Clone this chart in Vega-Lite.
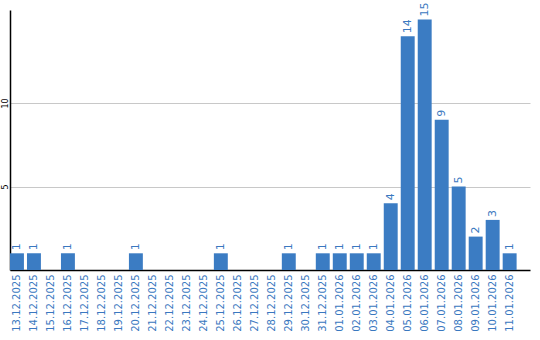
{
  "$schema": "https://vega.github.io/schema/vega-lite/v6.json",
  "width": 520,
  "height": 260,
  "autosize": "none",
  "padding": {"left": 10, "top": 10, "right": 10, "bottom": 70},
  "background": "white",
  "config": {"view": {"stroke": null}},
  "data": {"values": [
    {"d": "13.12.2025", "v": 1},
    {"d": "14.12.2025", "v": 1},
    {"d": "15.12.2025", "v": 0},
    {"d": "16.12.2025", "v": 1},
    {"d": "17.12.2025", "v": 0},
    {"d": "18.12.2025", "v": 0},
    {"d": "19.12.2025", "v": 0},
    {"d": "20.12.2025", "v": 1},
    {"d": "21.12.2025", "v": 0},
    {"d": "22.12.2025", "v": 0},
    {"d": "23.12.2025", "v": 0},
    {"d": "24.12.2025", "v": 0},
    {"d": "25.12.2025", "v": 1},
    {"d": "26.12.2025", "v": 0},
    {"d": "27.12.2025", "v": 0},
    {"d": "28.12.2025", "v": 0},
    {"d": "29.12.2025", "v": 1},
    {"d": "30.12.2025", "v": 0},
    {"d": "31.12.2025", "v": 1},
    {"d": "01.01.2026", "v": 1},
    {"d": "02.01.2026", "v": 1},
    {"d": "03.01.2026", "v": 1},
    {"d": "04.01.2026", "v": 4},
    {"d": "05.01.2026", "v": 14},
    {"d": "06.01.2026", "v": 15},
    {"d": "07.01.2026", "v": 9},
    {"d": "08.01.2026", "v": 5},
    {"d": "09.01.2026", "v": 2},
    {"d": "10.01.2026", "v": 3},
    {"d": "11.01.2026", "v": 1}
  ]},
  "encoding": {
    "x": {
      "field": "d", "type": "ordinal", "sort": null,
      "scale": {"paddingInner": 0.18, "paddingOuter": 0.394, "align": 0},
      "axis": {
        "title": null, "labelAngle": -90, "labelColor": "#3a78c0",
        "labelFont": "DejaVu Sans", "labelFontSize": 10, "labelPadding": 4,
        "ticks": false, "domainColor": "#000000", "domainWidth": 1.5, "grid": false
      }
    },
    "y": {
      "field": "v", "type": "quantitative",
      "scale": {"domain": [0, 15.57], "nice": false, "zero": true},
      "axis": {
        "title": null, "values": [5, 10], "labelAngle": -90, "labelColor": "#000000",
        "labelFont": "DejaVu Sans", "labelFontSize": 8, "labelPadding": 1,
        "ticks": false, "domainColor": "#000000", "domainWidth": 1.5,
        "grid": true, "gridColor": "#c8c8c8", "gridWidth": 1
      }
    }
  },
  "layer": [
    {"mark": {"type": "bar", "color": "#3b7cc3"}},
    {
      "transform": [{"filter": "datum.v > 0"}],
      "mark": {"type": "text", "angle": 270, "align": "left", "baseline": "middle", "dx": 3, "color": "#3a78c0", "font": "DejaVu Sans", "fontSize": 11},
      "encoding": {"text": {"field": "v", "type": "quantitative"}}
    }
  ]
}
